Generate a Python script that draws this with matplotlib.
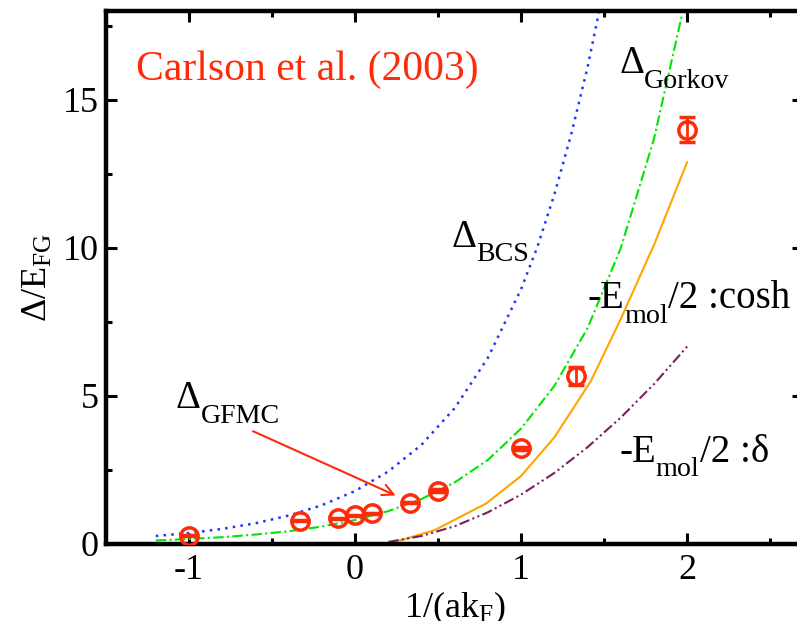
import numpy as np
import matplotlib
matplotlib.use("Agg")
import matplotlib.pyplot as plt

plt.rcParams['font.family'] = ['Liberation Serif', 'DejaVu Serif']
plt.rcParams['mathtext.fontset'] = 'custom'
plt.rcParams['mathtext.rm'] = 'Liberation Serif'
plt.rcParams['mathtext.it'] = 'Liberation Serif:italic'
plt.rcParams['axes.unicode_minus'] = False

# GFMC points (Carlson et al. 2003)
x_gfmc = [-1.0, -1/3, -0.1, 0.0, 0.1, 1/3, 0.5, 1.0, 4/3, 2.0]
y_gfmc = [0.28, 0.79, 0.87, 0.97, 1.04, 1.40, 1.80, 3.23, 5.68, 14.0]
err_gfmc = [0.02, 0.02, 0.02, 0.02, 0.02, 0.03, 0.06, 0.06, 0.31, 0.42]

# Delta_BCS (blue dotted)
x_bcs = [-1.2, -1.0, -0.8, -0.6, -0.4, -0.2, 0.0, 0.2, 0.4, 0.6, 0.8, 1.0, 1.1, 1.2, 1.3, 1.4, 1.47]
y_bcs = [0.27, 0.37, 0.51, 0.70, 0.96, 1.31, 1.79, 2.45, 3.35, 4.59, 6.29, 8.61, 10.07, 11.8, 13.8, 16.1, 18.0]

# Delta_Gorkov (green dash-dot)
x_gor = [-1.2, -1.0, -0.8, -0.6, -0.4, -0.2, 0.0, 0.2, 0.4, 0.6, 0.8, 1.0, 1.2, 1.4, 1.6, 1.8, 1.97]
y_gor = [0.12, 0.17, 0.23, 0.32, 0.43, 0.59, 0.81, 1.11, 1.52, 2.08, 2.84, 3.90, 5.34, 7.29, 9.99, 13.68, 17.9]

# -E_mol/2 : cosh (orange)
x_cosh = [0.2, 0.48, 0.79, 1.0, 1.2, 1.42, 1.6, 1.8, 2.0]
y_cosh = [0.0, 0.47, 1.37, 2.3, 3.6, 5.5, 7.6, 10.1, 12.9]

# -E_mol/2 : delta (purple)
x_del = [0.2, 0.4, 0.6, 0.8, 1.0, 1.2, 1.4, 1.6, 1.8, 2.0]
y_del = [0.07, 0.27, 0.6, 1.07, 1.67, 2.4, 3.27, 4.27, 5.4, 6.67]

fig = plt.figure(figsize=(7.97, 6.21), dpi=100)
ax = fig.add_axes([0.133, 0.124, 0.875, 0.858])


def label(x, y, parts, size=28):
    # parts: (string, is_subscript); subscripts are set lower than mathtext does
    base = ax.text(x, y, parts[0][0], fontsize=size, va='baseline')
    prev = base
    for s, sub in parts[1:]:
        fs = size * 0.72 if sub else size
        dy = -0.3 * size if sub else 0
        prev = ax.annotate(s, xy=(1, 0), xycoords=(prev, base), xytext=(0, dy),
                           textcoords='offset points', fontsize=fs, va='bottom')


ax.plot(x_bcs, y_bcs, color='#2233ff', lw=1.8, linestyle=(0, (1, 2.1)))
ax.plot(x_gor, y_gor, color='#00e600', lw=1.5, linestyle=(0, (5, 1.6, 1, 1.6)))
ax.plot(x_cosh, y_cosh, color='#ffa500', lw=1.5)
ax.plot(x_del, y_del, color='#7a1f5f', lw=1.5, linestyle=(0, (5, 1.6, 1, 1.6, 1, 1.6)))

ax.errorbar(x_gfmc, y_gfmc, yerr=err_gfmc, fmt='o', mfc='none', mec='#ff2a0a',
            ms=12.5, mew=2.5, ecolor='#ff2a0a', elinewidth=2, capsize=5.5, capthick=2,
            zorder=5)

ax.set_xlim(-1.5, 2.7)
ax.set_ylim(0, 18)
ax.set_xticks([-1, 0, 1, 2])
ax.set_xticks([-0.5, 0.5, 1.5, 2.5], minor=True)
ax.set_yticks([0, 5, 10, 15])
ax.set_yticks([2.5, 7.5, 12.5, 17.5], minor=True)
ax.tick_params(which='both', direction='in', top=True, right=True, width=2.2, labelsize=26)
ax.tick_params(which='major', length=8, pad=5)
ax.tick_params(axis='x', which='major', pad=7)
ax.tick_params(which='minor', length=4.3)
for s in ax.spines.values():
    s.set_linewidth(3.2)

ax.set_xlabel('1/(ak$_{\\rm F}$)', fontsize=26, labelpad=2)
ax.set_ylabel('Δ/E$_{\\rm FG}$', fontsize=26, labelpad=6)

ax.text(-1.32, 15.68, 'Carlson et al. (2003)', color='#ff2a0a', fontsize=30, va='baseline')
label(1.59, 15.91, [('Δ', False), ('Gorkov', True)])
label(0.58, 10.04, [('Δ', False), ('BCS', True)])
label(-1.08, 4.59, [('Δ', False), ('GFMC', True)])
label(1.40, 7.97, [('-E', False), ('mol', True), ('/2 :cosh', False)])
label(1.59, 2.78, [('-E', False), ('mol', True), ('/2 :δ', False)])

ax.annotate('', xy=(0.26, 1.6), xytext=(-0.63, 3.85),
            arrowprops=dict(arrowstyle='->', color='#ff2a0a', lw=1.5, mutation_scale=20))

fig.savefig('out.png', dpi=100)
